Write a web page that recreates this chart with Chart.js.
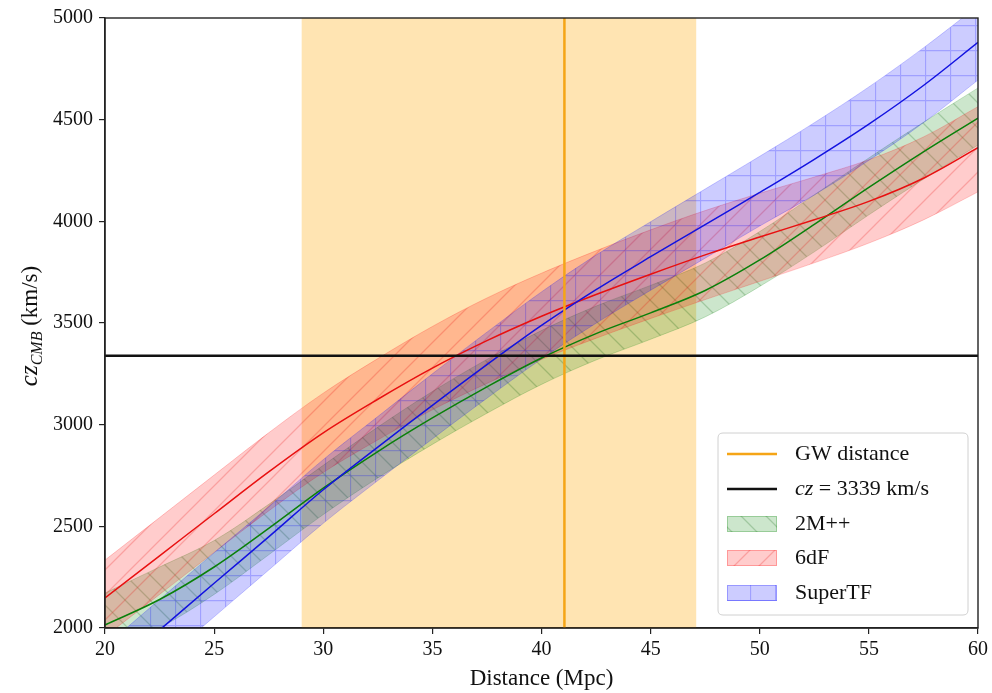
<!DOCTYPE html>
<html><head><meta charset="utf-8">
<script src="https://cdn.jsdelivr.net/npm/chart.js@4.4.0/dist/chart.umd.min.js"></script>
<style>html,body{margin:0;padding:0;background:#fff}#wrap{width:992px;height:693px;position:relative}</style>
</head><body><div id="wrap"><canvas id="c"></canvas></div>
<script>
// ---- data ----
const distance   = [20, 22.5, 25, 27.5, 30, 32.5, 35, 37.5, 40, 42.5, 45, 47.5, 50, 52.5, 55, 57.5, 60];
const mid2Mpp    = [2015, 2140, 2300, 2490, 2688, 2868, 3033, 3186, 3328, 3448, 3550, 3660, 3810, 3985, 4167, 4342, 4508];
const high2Mpp   = [2172, 2300, 2430, 2608, 2800, 2988, 3163, 3321, 3463, 3583, 3685, 3795, 3950, 4130, 4312, 4487, 4656];
const low2Mpp    = [1875, 2000, 2165, 2360, 2558, 2738, 2903, 3056, 3198, 3318, 3420, 3530, 3680, 3850, 4032, 4207, 4375];
const mid6dF     = [2148, 2355, 2562, 2768, 2960, 3125, 3278, 3413, 3533, 3640, 3740, 3835, 3923, 4008, 4098, 4212, 4362];
const high6dF    = [2334, 2543, 2752, 2960, 3155, 3325, 3483, 3623, 3745, 3855, 3958, 4053, 4138, 4218, 4303, 4415, 4564];
const low6dF     = [1958, 2165, 2372, 2576, 2765, 2925, 3073, 3203, 3321, 3425, 3522, 3615, 3705, 3796, 3893, 4007, 4145];
const midSTF     = [1760, 1990, 2220, 2448, 2680, 2890, 3095, 3295, 3488, 3664, 3826, 3984, 4142, 4305, 4478, 4668, 4880];
const highSTF    = [1910, 2140, 2370, 2596, 2828, 3040, 3250, 3455, 3653, 3834, 3998, 4159, 4320, 4485, 4661, 4853, 5060];
const lowSTF     = [1595, 1825, 2055, 2285, 2515, 2725, 2930, 3130, 3323, 3499, 3661, 3819, 3977, 4130, 4300, 4485, 4695];
const gwDistance = 41.05;
const gwRange    = [29, 47.1];
const czGroup    = 3339;
const xTicks     = [20, 25, 30, 35, 40, 45, 50, 55, 60];
const yTicks     = [2000, 2500, 3000, 3500, 4000, 4500, 5000];
const legendLabels = ['GW distance', 'cz = 3339 km/s', '2M++', '6dF', 'SuperTF'];

// ---- helpers ----
const SERIF = '"Liberation Serif", "DejaVu Serif", serif';
function pts(ys){ return distance.map((x,i)=>({x:x, y:ys[i]})); }
function hatch(kind, fill, stroke){
  const s = 25, c = document.createElement('canvas');
  c.width = s; c.height = s;
  const g = c.getContext('2d');
  g.fillStyle = fill; g.fillRect(0,0,s,s);
  g.strokeStyle = stroke; g.lineWidth = 1.3;
  g.beginPath();
  if (kind === '+') { g.moveTo(0.5,0); g.lineTo(0.5,s); g.moveTo(0,0.5); g.lineTo(s,0.5); }
  if (kind === '/') { g.moveTo(-2,s+2); g.lineTo(s+2,-2); g.moveTo(-2,2); g.lineTo(2,-2); g.moveTo(s-2,s+2); g.lineTo(s+2,s-2); }
  if (kind === '\\') { g.moveTo(-2,-2); g.lineTo(s+2,s+2); g.moveTo(s-2,-2); g.lineTo(s+2,2); g.moveTo(-2,s-2); g.lineTo(2,s+2); }
  g.stroke();
  return c.getContext('2d').createPattern(c, 'repeat');
}
const patGreen = hatch('\\', 'rgba(0,128,0,0.2)', 'rgba(0,90,0,0.22)');
const patRed   = hatch('/',  'rgba(255,0,0,0.2)', 'rgba(230,0,0,0.22)');
const patBlue  = hatch('+',  'rgba(0,0,255,0.2)', 'rgba(0,0,255,0.22)');
const TENSION = 0.35;

function bandPair(label, lo, hi, edge, pat, order){
  return [
    {label: label+' low', data: pts(lo), borderColor: edge, borderWidth: 1, pointRadius: 0, fill: false, tension: TENSION, order: order},
    {label: label, data: pts(hi), borderColor: edge, borderWidth: 1, pointRadius: 0, fill: '-1', backgroundColor: pat, tension: TENSION, order: order}
  ];
}

const datasets = [
  {label: 'GW band', data: [{x: gwRange[0], y: 5000}, {x: gwRange[1], y: 5000}], fill: 'start', backgroundColor: 'rgba(255,165,0,0.3)', borderWidth: 0, pointRadius: 0, order: 20},
  ...bandPair('2M++', low2Mpp, high2Mpp, 'rgba(0,128,0,0.2)', patGreen, 12),
  ...bandPair('6dF', low6dF, high6dF, 'rgba(255,0,0,0.2)', patRed, 11),
  ...bandPair('SuperTF', lowSTF, highSTF, 'rgba(0,0,255,0.2)', patBlue, 10),
  {label: '2M++ mean', data: pts(mid2Mpp), borderColor: '#0a800a', borderWidth: 1.5, pointRadius: 0, fill: false, tension: TENSION, order: 5},
  {label: '6dF mean', data: pts(mid6dF), borderColor: '#e81010', borderWidth: 1.5, pointRadius: 0, fill: false, tension: TENSION, order: 4},
  {label: 'SuperTF mean', data: pts(midSTF), borderColor: '#1212e0', borderWidth: 1.5, pointRadius: 0, fill: false, tension: TENSION, order: 3},
  {label: legendLabels[0], data: [{x: gwDistance, y: 2000}, {x: gwDistance, y: 5000}], borderColor: '#f5a516', borderWidth: 2.5, pointRadius: 0, fill: false, order: 1},
  {label: legendLabels[1], data: [{x: 20, y: czGroup}, {x: 60, y: czGroup}], borderColor: '#111', borderWidth: 2.5, pointRadius: 0, fill: false, order: 0}
];

const framePlugin = {
  id: 'frame',
  afterDatasetsDraw(chart){
    const {ctx, chartArea: a} = chart;
    ctx.save();
    ctx.strokeStyle = '#222'; ctx.lineWidth = 1.4;
    ctx.strokeRect(a.left, a.top, a.right - a.left, a.bottom - a.top);
    ctx.restore();
  }
};

const yTitlePlugin = {
  id: 'ytitle',
  afterDraw(chart){
    const ctx = chart.ctx;
    ctx.save();
    ctx.translate(37, 326);
    ctx.rotate(-Math.PI/2);
    ctx.fillStyle = '#111';
    ctx.textBaseline = 'alphabetic';
    const f1 = 'italic 25px ' + SERIF, f2 = 'italic 16px ' + SERIF, f3 = '23px ' + SERIF;
    ctx.font = f1; const w1 = ctx.measureText('cz').width;
    ctx.font = f2; const w2 = ctx.measureText('CMB').width;
    ctx.font = f3; const w3 = ctx.measureText(' (km/s)').width;
    let x = -(w1 + w2 + w3)/2;
    ctx.font = f1; ctx.fillText('cz', x, 0); x += w1;
    ctx.font = f2; ctx.fillText('CMB', x, 5); x += w2;
    ctx.font = f3; ctx.fillText(' (km/s)', x, 0);
    ctx.restore();
  }
};

const legendPlugin = {
  id: 'customLegend',
  afterDraw(chart){
    const ctx = chart.ctx;
    const L = 718, T = 433, R = 968, B = 615, r = 5;
    ctx.save();
    ctx.beginPath();
    ctx.moveTo(L+r, T); ctx.lineTo(R-r, T); ctx.quadraticCurveTo(R, T, R, T+r);
    ctx.lineTo(R, B-r); ctx.quadraticCurveTo(R, B, R-r, B);
    ctx.lineTo(L+r, B); ctx.quadraticCurveTo(L, B, L, B-r);
    ctx.lineTo(L, T+r); ctx.quadraticCurveTo(L, T, L+r, T);
    ctx.closePath();
    ctx.fillStyle = 'rgba(255,255,255,0.85)'; ctx.fill();
    ctx.strokeStyle = '#d0d0d0'; ctx.lineWidth = 1; ctx.stroke();
    const rows = [454, 489, 524, 558, 593];
    const hx0 = 727, hx1 = 777, tx = 795;
    ctx.lineWidth = 2.5;
    ctx.strokeStyle = '#f5a516'; ctx.beginPath(); ctx.moveTo(hx0, rows[0]); ctx.lineTo(hx1, rows[0]); ctx.stroke();
    ctx.strokeStyle = '#111'; ctx.beginPath(); ctx.moveTo(hx0, rows[1]); ctx.lineTo(hx1, rows[1]); ctx.stroke();
    const patches = [[patGreen, 'rgba(0,128,0,0.25)'], [patRed, 'rgba(255,0,0,0.25)'], [patBlue, 'rgba(0,0,255,0.25)']];
    patches.forEach((p, i) => {
      const y = rows[2+i];
      ctx.fillStyle = p[0]; ctx.fillRect(hx0, y-8, hx1-hx0, 16);
      ctx.strokeStyle = p[1]; ctx.lineWidth = 1; ctx.strokeRect(hx0+0.5, y-8+0.5, hx1-hx0-1, 15);
    });
    ctx.fillStyle = '#111';
    ctx.textBaseline = 'middle';
    const f = '22px ' + SERIF;
    ctx.font = f; ctx.fillText(legendLabels[0], tx, rows[0]);
    ctx.font = 'italic 22px ' + SERIF; ctx.fillText('cz', tx, rows[1]);
    const wcz = ctx.measureText('cz').width;
    ctx.font = f; ctx.fillText(legendLabels[1].slice(2), tx + wcz, rows[1]);
    ctx.fillText(legendLabels[2], tx, rows[2]);
    ctx.fillText(legendLabels[3], tx, rows[3]);
    ctx.fillText(legendLabels[4], tx, rows[4]);
    ctx.restore();
  }
};

new Chart(document.getElementById('c'), {
  type: 'line',
  data: {datasets: datasets},
  plugins: [framePlugin, yTitlePlugin, legendPlugin],
  options: {
    responsive: true, maintainAspectRatio: false, animation: false,
    layout: {padding: {top: 18, right: 12, left: 0, bottom: 0}},
    plugins: {legend: {display: false}, tooltip: {enabled: false}, filler: {propagate: false}},
    scales: {
      x: {
        type: 'linear', min: 20, max: 60,
        afterBuildTicks: s => { s.ticks = xTicks.map(v => ({value: v})); },
        afterFit: s => { s.height = 65; },
        grid: {display: true, drawOnChartArea: false, drawTicks: true, tickLength: 6, color: '#222', lineWidth: 1.2},
        border: {display: true, color: '#222', width: 1.4},
        ticks: {color: '#111', font: {family: SERIF, size: 20}, padding: 4, maxRotation: 0, autoSkip: false, callback: v => String(v)},
        title: {display: true, text: 'Distance (Mpc)', color: '#111', font: {family: SERIF, size: 23}, padding: {top: 0, bottom: 0}}
      },
      y: {
        type: 'linear', min: 2000, max: 5000,
        afterBuildTicks: s => { s.ticks = yTicks.map(v => ({value: v})); },
        afterFit: s => { s.width = 105; },
        grid: {display: true, drawOnChartArea: false, drawTicks: true, tickLength: 6, color: '#222', lineWidth: 1.2},
        border: {display: true, color: '#222', width: 1.4},
        ticks: {color: '#111', font: {family: SERIF, size: 20}, padding: 6, autoSkip: false, callback: v => String(v)}
      }
    }
  }
});
</script></body></html>
